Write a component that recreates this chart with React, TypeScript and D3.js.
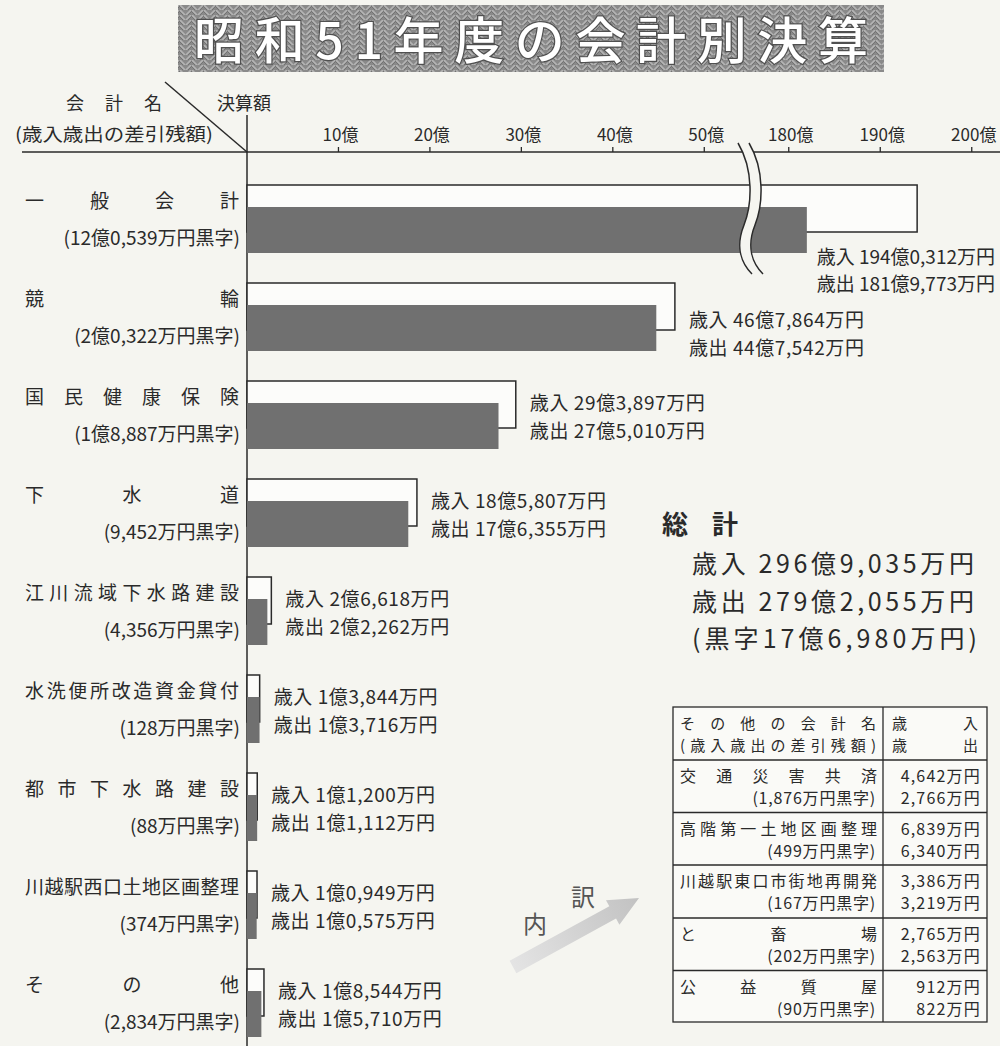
import React from 'react';
import * as d3 from 'd3';

// ---- data (values in 万円) ----
const categories = ['一般会計', '競輪', '国民健康保険', '下水道', '江川流域下水路建設', '水洗便所改造資金貸付', '都市下水路建設', '川越駅西口土地区画整理', 'その他'];
const revenue = [1940312, 467864, 293897, 185807, 26618, 13844, 11200, 10949, 18544];
const expenditure = [1819773, 447542, 275010, 176355, 22262, 13716, 11112, 10575, 15710];
const tickValues = [10, 20, 30, 40, 50, 180, 190, 200];
const otherNames = ['交通災害共済', '高階第一土地区画整理', '川越駅東口市街地再開発', 'と畜場', '公益質屋'];
const otherRevenue = [4642, 6839, 3386, 2765, 912];
const otherExpenditure = [2766, 6340, 3219, 2563, 822];

const FONT = '"Noto Sans CJK JP", "Noto Sans", sans-serif';
const INK = '#2a2a2a';
const BG = '#f5f5f0';

const fmt = (v: number) => {
  const oku = Math.floor(v / 10000);
  const man = v % 10000;
  if (oku > 0) {
    const s = String(man).padStart(4, '0');
    return `${oku}億${s[0]},${s.slice(1)}万円`;
  }
  return `${d3.format(',')(man)}万円`;
};

// justified characters between x0 and x1
function Justify({ text, x0, x1, y, size, weight, fill }: any) {
  const chars = Array.from(text as string);
  const n = chars.length;
  return (
    <g>
      {chars.map((c, i) => {
        const cx = n === 1 ? (x0 + x1) / 2 : x0 + size / 2 + (i * (x1 - x0 - size)) / (n - 1);
        return (
          <text key={i} x={cx} y={y} textAnchor="middle" dominantBaseline="central" fontSize={size} fontWeight={weight || 400} fill={fill || INK}>
            {c}
          </text>
        );
      })}
    </g>
  );
}

export default function App() {
  const x0 = 247;
  const x = d3.scaleLinear().domain([0, 55, 175, 210]).range([x0, 750, 743, 743 + 35 * 9.15]);
  const y = d3.scaleBand().domain(categories).range([185, 185 + 9 * 98]).paddingInner(0);
  const axisY = 152;

  const totalRev = d3.sum(revenue);
  const totalExp = d3.sum(expenditure);

  // table geometry
  const tL = 673, tR = 987, tM = 883, tTop = 707;
  const rowEdges = [707, 760, 812.5, 865, 918, 970.5, 1022];

  const labelDy = (i: number) => (i === 0 ? [70, 97] : i === 1 ? [35, 63] : [20, 48]);

  // arrow geometry
  const ax0 = 513, ay0 = 967, ax1 = 639, ay1 = 898;
  const ang = Math.atan2(ay1 - ay0, ax1 - ax0);
  const len = Math.hypot(ax1 - ax0, ay1 - ay0);
  const shaft = 7, head = 14, headLen = 30;

  const wave = (dx: number) => `M${738 + dx},143 C${754 + dx},170 ${752 + dx},205 ${744 + dx},225 C${736 + dx},245 ${740 + dx},262 ${752 + dx},274`;
  const waveRev = (dx: number) => `L${752 + dx},274 C${740 + dx},262 ${736 + dx},245 ${744 + dx},225 C${752 + dx},205 ${754 + dx},170 ${738 + dx},143 Z`;

  return (
    <svg width={1000} height={1046} style={{ position: 'absolute', left: 0, top: 0, fontFamily: FONT }}>
      <defs>
        <pattern id="herring" width="12" height="5" patternUnits="userSpaceOnUse">
          <rect width="12" height="5" fill="#8a8a8a" />
          <path d="M0,0 L5,5 M6,5 L11,0" stroke="#b4b4b4" strokeWidth="1.6" />
          <path d="M-1,1 L3,5 M8,5 L12,1" stroke="#6c6c6c" strokeWidth="0.8" />
        </pattern>
        <linearGradient id="arrowGrad" x1="0" y1="0" x2="1" y2="0">
          <stop offset="0" stopColor="#e4e4e4" />
          <stop offset="1" stopColor="#c2c2c2" />
        </linearGradient>
      </defs>
      <rect width={1000} height={1046} fill={BG} />

      {/* title */}
      <rect x={178} y={5} width={706} height={67} fill="url(#herring)" />
      <text x={194} y={59} fontSize={50} fontWeight={500} fill="#ffffff" stroke="#505050" strokeWidth={2.5} paintOrder="stroke" textLength={674} lengthAdjust="spacing">
        昭和51年度の会計別決算
      </text>

      {/* header */}
      <Justify text="会計名" x0={66} x1={162} y={102} size={18} />
      <text x={15} y={133} fontSize={18} fill={INK} dominantBaseline="central" textLength={198} lengthAdjust="spacingAndGlyphs">(歳入歳出の差引残額)</text>
      <text x={217} y={102} fontSize={18} fill={INK} dominantBaseline="central">決算額</text>
      <line x1={165} y1={82} x2={x0} y2={axisY} stroke={INK} strokeWidth={1.5} />
      <line x1={22} y1={axisY} x2={1000} y2={axisY} stroke={INK} strokeWidth={1.5} />
      <line x1={x0} y1={115} x2={x0} y2={1046} stroke={INK} strokeWidth={1.5} />
      {tickValues.map((t) => (
        <g key={t}>
          <line x1={x(t)} x2={x(t)} y1={axisY - 5} y2={axisY} stroke={INK} strokeWidth={1.3} />
          <text x={x(t) + 2} y={133} fontSize={17} textAnchor="middle" dominantBaseline="central" fill={INK}>{`${t}億`}</text>
        </g>
      ))}

      {/* bars */}
      {categories.map((c, i) => {
        const top = y(c)!;
        const xr = x(revenue[i] / 10000);
        const xe = x(expenditure[i] / 10000);
        const [d1, d2] = labelDy(i);
        const first = i === 0;
        const lx = first ? 995 : xr + 14;
        const anchor = first ? 'end' : 'start';
        return (
          <g key={c}>
            <rect x={x0} y={top} width={xr - x0} height={47} fill="#fcfcfa" stroke={INK} strokeWidth={1.5} />
            <rect x={x0} y={top + 22} width={xe - x0} height={46} fill="#707070" />
            <Justify text={c} x0={25} x1={239} y={top + 14} size={19} />
            <text x={240} y={top + 51} fontSize={19} textAnchor="end" dominantBaseline="central" fill={INK}>
              {`(${fmt(revenue[i] - expenditure[i])}黒字)`}
            </text>
            <text x={lx} y={top + d1} fontSize={19} textAnchor={anchor} dominantBaseline="central" fill={INK} letterSpacing={first ? 0 : 0.6}>{`歳入 ${fmt(revenue[i])}`}</text>
            <text x={lx} y={top + d2} fontSize={19} textAnchor={anchor} dominantBaseline="central" fill={INK} letterSpacing={first ? 0 : 0.6}>{`歳出 ${fmt(expenditure[i])}`}</text>
          </g>
        );
      })}

      {/* axis break */}
      <path d={wave(0) + ' ' + waveRev(11)} fill={BG} stroke="none" />
      <path d={wave(0)} fill="none" stroke={INK} strokeWidth={1.5} />
      <path d={wave(11)} fill="none" stroke={INK} strokeWidth={1.5} />

      {/* totals */}
      <Justify text="総計" x0={662} x1={738} y={522} size={26} weight={700} />
      <text x={692} y={562} fontSize={25} dominantBaseline="central" fill={INK} textLength={282} lengthAdjust="spacing">{`歳入 ${fmt(totalRev)}`}</text>
      <text x={692} y={600} fontSize={25} dominantBaseline="central" fill={INK} textLength={282} lengthAdjust="spacing">{`歳出 ${fmt(totalExp)}`}</text>
      <text x={692} y={637} fontSize={25} dominantBaseline="central" fill={INK} textLength={285} lengthAdjust="spacing">{`(黒字${fmt(totalRev - totalExp)})`}</text>

      {/* arrow */}
      <g transform={`translate(${ax0},${ay0}) rotate(${(ang * 180) / Math.PI})`}>
        <path d={`M0,${-shaft} L${len - headLen},${-shaft} L${len - headLen},${-head} L${len},0 L${len - headLen},${head} L${len - headLen},${shaft} L0,${shaft} Z`} fill="url(#arrowGrad)" />
      </g>
      <text x={535} y={922} fontSize={24} textAnchor="middle" dominantBaseline="central" fill="#555">内</text>
      <text x={583} y={895} fontSize={24} textAnchor="middle" dominantBaseline="central" fill="#555">訳</text>

      {/* table */}
      <rect x={tL} y={tTop} width={tR - tL} height={rowEdges[rowEdges.length - 1] - tTop} fill="#fafaf7" stroke={INK} strokeWidth={1.3} />
      <line x1={tM} x2={tM} y1={tTop} y2={rowEdges[rowEdges.length - 1]} stroke={INK} strokeWidth={1.3} />
      {rowEdges.slice(1, -1).map((e) => (
        <line key={e} x1={tL} x2={tR} y1={e} y2={e} stroke={INK} strokeWidth={1.6} />
      ))}
      <Justify text="その他の会計名" x0={680} x1={876} y={722} size={15} />
      <text x={680} y={744} fontSize={15} dominantBaseline="central" fill={INK} textLength={196} lengthAdjust="spacing">(歳入歳出の差引残額)</text>
      <Justify text="歳入" x0={892} x1={978} y={722} size={15} />
      <Justify text="歳出" x0={892} x1={978} y={744} size={15} />
      {otherNames.map((n, i) => {
        const top = rowEdges[i + 1];
        return (
          <g key={n}>
            <Justify text={n} x0={680} x1={877} y={top + 15} size={16} />
            <text x={876} y={top + 37} fontSize={16} textAnchor="end" dominantBaseline="central" fill={INK} letterSpacing={0.8}>
              {`(${fmt(otherRevenue[i] - otherExpenditure[i])}黒字)`}
            </text>
            <text x={981} y={top + 15} fontSize={16} textAnchor="end" dominantBaseline="central" fill={INK} letterSpacing={1.2}>{fmt(otherRevenue[i])}</text>
            <text x={981} y={top + 37} fontSize={16} textAnchor="end" dominantBaseline="central" fill={INK} letterSpacing={1.2}>{fmt(otherExpenditure[i])}</text>
          </g>
        );
      })}
    </svg>
  );
}
